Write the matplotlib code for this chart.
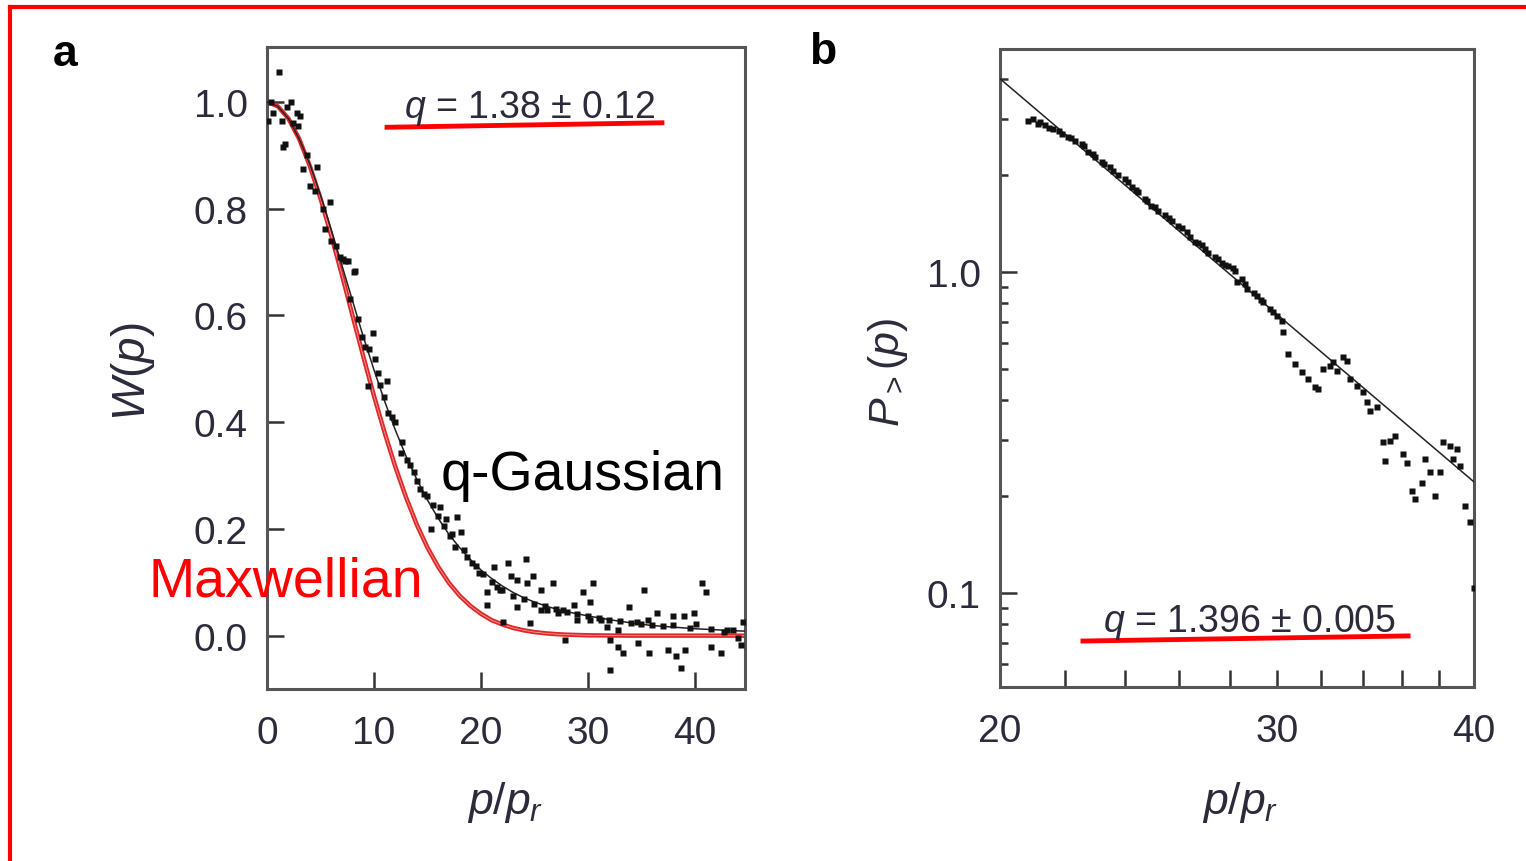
import matplotlib.pyplot as plt
from matplotlib.lines import Line2D
from matplotlib.ticker import FixedLocator, FixedFormatter, NullFormatter

# panel a: W(p) measured points
wp_x = [1.1, 2.2, 0.6, 0.1, 2.8, 3.1, 1.4, 2.9, 1.7, 1.5, 3.4, 4.7, 4.0, 4.5, 5.9, 5.2, 5.4, 6.4,
        7.1, 7.6, 8.2, 7.3, 8.1, 7.8, 8.5, 9.9, 8.9, 9.5, 10.1, 10.4, 11.2, 9.4, 10.9, 11.3, 12.0,
        12.6, 12.5, 13.1, 13.7, 14.3, 15.0, 15.3, 16.2, 16.7, 17.8, 18.1, 17.1, 17.6, 18.7, 19.2,
        19.8, 20.6, 20.6, 21.2, 22.5, 24.2, 21.8, 22.8, 23.4, 24.3, 24.9, 26.7, 25.6, 23.4, 24.6,
        22.1, 25.6, 26.2, 27.2, 27.7, 28.7, 29.5, 30.5, 30.2, 27.9, 29.0, 30.2, 31.2, 31.8, 32.8,
        32.1, 32.8, 33.3, 32.1, 33.8, 35.2, 34.6, 35.6, 36.5, 34.7, 35.7, 37.5, 38.2, 38.7, 39.1,
        38.0, 39.0, 39.9, 40.7, 41.0, 40.1, 41.5, 42.4, 42.7, 43.6, 44.5, 44.3,
        0.4, 1.9, 2.4, 3.7, 6.0, 6.8, 9.2, 10.6, 11.7, 13.4, 14.0, 14.7, 15.5, 16.0, 16.5, 17.3,
        18.4, 19.5, 20.2, 21.0, 21.5, 22.0, 23.0, 24.0, 25.0, 26.0, 27.0, 28.0, 29.0, 30.0, 31.0,
        32.0, 33.0, 34.0, 35.0, 36.0, 37.0, 38.0, 39.5, 41.5, 43.0, 44.0]
wp_y = [1.056, 1.0, 0.98, 0.965, 0.98, 0.974, 0.965, 0.955, 0.921, 0.916, 0.874, 0.878, 0.842,
        0.833, 0.812, 0.80, 0.762, 0.730, 0.705, 0.702, 0.683, 0.702, 0.681, 0.630, 0.593, 0.568,
        0.559, 0.537, 0.518, 0.493, 0.477, 0.467, 0.448, 0.418, 0.401, 0.362, 0.343, 0.330, 0.306,
        0.274, 0.261, 0.199, 0.242, 0.218, 0.223, 0.195, 0.186, 0.167, 0.148, 0.137, 0.118, 0.081,
        0.058, 0.129, 0.137, 0.143, 0.086, 0.111, 0.105, 0.099, 0.111, 0.099, 0.086, 0.053, 0.024,
        0.026, 0.049, 0.049, 0.043, 0.049, 0.058, 0.081, 0.099, 0.064, -0.008, 0.030, 0.030, 0.030,
        0.017, 0.011, -0.008, -0.021, -0.032, -0.064, 0.053, 0.086, 0.026, 0.030, 0.043, -0.013,
        -0.032, -0.026, -0.039, -0.060, -0.026, 0.036, 0.036, 0.043, 0.099, 0.081, 0.021, -0.022,
        -0.032, 0.006, 0.011, 0.026, -0.017,
        1.0, 0.99, 0.96, 0.90, 0.74, 0.71, 0.54, 0.47, 0.41, 0.32, 0.29, 0.265, 0.245, 0.225, 0.205,
        0.19, 0.16, 0.13, 0.115, 0.10, 0.092, 0.085, 0.075, 0.068, 0.06, 0.055, 0.05, 0.045, 0.04,
        0.036, 0.033, 0.03, 0.027, 0.024, 0.022, 0.02, 0.018, 0.02, 0.015, 0.012, 0.01, -0.005]

# fitted curves, panel a
curve_x = [0, 1, 2, 3, 4, 5, 6, 7, 8, 9, 10, 11, 12, 13, 14, 15, 16, 17, 18, 19, 20, 21, 22, 23,
           24, 25, 26, 27, 28, 30, 32, 34, 36, 38, 40, 42, 44, 44.7]
maxwell_y = [1.0, 0.992, 0.969, 0.931, 0.880, 0.819, 0.750, 0.676, 0.599, 0.523, 0.449, 0.380,
             0.316, 0.259, 0.208, 0.165, 0.129, 0.099, 0.075, 0.056, 0.041, 0.029, 0.021, 0.0145,
             0.010, 0.0067, 0.0045, 0.0029, 0.0019, 0.0007, 0.0003, 0.0, 0.0, 0.0, 0.0, 0.0, 0.0, 0.0]
qgauss_y = [1.0, 0.992, 0.969, 0.931, 0.883, 0.825, 0.761, 0.694, 0.627, 0.560, 0.498, 0.439,
            0.385, 0.336, 0.293, 0.254, 0.220, 0.190, 0.165, 0.143, 0.123, 0.107, 0.093, 0.081,
            0.071, 0.063, 0.056, 0.050, 0.045, 0.037, 0.030, 0.024, 0.019, 0.016, 0.013, 0.011,
            0.009, 0.0085]

# panel b: cumulative distribution
cdf_x = [20.84, 21.0, 21.15, 21.36, 21.62, 21.89, 22.1, 22.32, 22.54, 22.76, 22.98, 23.21, 23.49,
         23.78, 24.01, 24.25, 24.48, 24.72, 24.96, 25.2, 25.46, 25.71, 25.96, 26.28, 26.6, 26.86,
         27.12, 27.39, 27.66, 27.93, 28.2, 28.48, 28.27, 28.69, 29.11, 29.4, 29.68, 29.98, 30.2,
         30.27, 30.49, 30.79, 31.09, 31.4, 31.7, 31.86, 32.09, 32.41, 32.57, 33.04, 33.21, 32.73,
         33.37, 33.7, 34.02, 34.19, 34.36, 34.7, 35.04, 35.38, 35.64, 35.12, 36.07, 36.25, 37.23,
         37.51, 38.06, 37.05, 36.52, 36.7, 37.78, 38.25, 38.62, 39.0, 38.81, 39.19, 39.48, 39.77,
         40.0,
         21.2, 21.5, 21.8, 22.2, 22.6, 22.9, 23.3, 23.6, 24.1, 24.4, 24.8, 25.1, 25.6, 26.1, 26.4,
         26.7, 27.0, 27.5, 27.8, 28.1, 28.6, 29.0, 29.3, 29.8]
cdf_y = [2.96, 3.00, 2.89, 2.86, 2.79, 2.69, 2.63, 2.56, 2.50, 2.36, 2.28, 2.20, 2.12, 2.00, 1.95,
         1.84, 1.77, 1.69, 1.61, 1.55, 1.50, 1.44, 1.39, 1.33, 1.24, 1.21, 1.15, 1.11, 1.07, 1.046,
         1.01, 0.951, 0.929, 0.885, 0.844, 0.805, 0.767, 0.731, 0.705, 0.649, 0.555, 0.517, 0.487,
         0.464, 0.437, 0.432, 0.499, 0.511, 0.523, 0.542, 0.530, 0.493, 0.464, 0.442, 0.422, 0.393,
         0.370, 0.379, 0.295, 0.298, 0.309, 0.258, 0.271, 0.255, 0.261, 0.238, 0.238, 0.221, 0.208,
         0.196, 0.201, 0.295, 0.288, 0.281, 0.261, 0.249, 0.187, 0.166, 0.104,
         2.93, 2.80, 2.74, 2.62, 2.46, 2.33, 2.17, 2.06, 1.91, 1.80, 1.66, 1.59, 1.47, 1.37, 1.29,
         1.23, 1.18, 1.10, 1.05, 1.03, 0.92, 0.86, 0.82, 0.75]
fit_x = [20, 40]
fit_y = [4.0, 0.222]

a_xticks = [0, 10, 20, 30, 40]
a_yticks = [0.0, 0.2, 0.4, 0.6, 0.8, 1.0]
a_ylabels = ['0.0', '0.2', '0.4', '0.6', '0.8', '1.0']
b_xticks = [20, 30, 40]
b_xminor = [22, 24, 26, 28, 32, 34, 36, 38]
b_yticks = [0.1, 1.0]
b_ylabels = ['0.1', '1.0']
b_yminor = [0.06, 0.07, 0.08, 0.09, 0.2, 0.3, 0.4, 0.5, 0.6, 0.7, 0.8, 0.9, 2, 3, 4]

plt.rcParams['font.family'] = ['Liberation Sans', 'DejaVu Sans']
plt.rcParams['mathtext.fontset'] = 'custom'
plt.rcParams['mathtext.it'] = 'Liberation Sans:italic'
plt.rcParams['mathtext.rm'] = 'Liberation Sans'

tick_col = '#2b2b3b'
spine_col = '#555555'

fig = plt.figure(figsize=(15.26, 8.62), dpi=100)
ax1 = fig.add_axes([0.175, 0.1995, 0.3133, 0.7448])
ax2 = fig.add_axes([0.6553, 0.2019, 0.3106, 0.7401])

# ---- panel a
ax1.plot(curve_x, maxwell_y, color='#e02828', lw=3.2, zorder=2)
ax1.plot(curve_x, maxwell_y, color='#f39a9a', lw=0.6, zorder=2.1)
ax1.plot(curve_x, qgauss_y, color='#222222', lw=1.1, zorder=3)
ax1.plot(wp_x, wp_y, 's', ms=4, color='#111111', mec='none', zorder=4)
ax1.set_xlim(0, 44.7)
ax1.set_ylim(-0.1, 1.103)
ax1.set_xticks(a_xticks)
ax1.set_yticks(a_yticks)
ax1.set_yticklabels(a_ylabels)

ax1.text(0.55, 0.891, r'$q$ = 1.38 ± 0.12', transform=ax1.transAxes, ha='center',
         va='baseline', fontsize=27, color=tick_col)
ax1.plot([0.251, 0.826], [0.875, 0.882], transform=ax1.transAxes, color='red', lw=3.5)
ax1.text(16.2, 0.274, 'q-Gaussian', fontsize=40, color='black', ha='left', va='baseline',
         zorder=6)
ax1.text(-11.1, 0.075, 'Maxwellian', fontsize=40, color='red', ha='left', va='baseline',
         clip_on=False, zorder=6)

# ---- panel b
ax2.set_xscale('log')
ax2.set_yscale('log')
ax2.plot(fit_x, fit_y, color='#222222', lw=1.1, zorder=3)
ax2.plot(cdf_x, cdf_y, 's', ms=4, color='#111111', mec='none', zorder=4)
ax2.set_xlim(20, 40)
ax2.set_ylim(0.051, 4.95)
ax2.xaxis.set_major_locator(FixedLocator(b_xticks))
ax2.xaxis.set_major_formatter(FixedFormatter([str(t) for t in b_xticks]))
ax2.xaxis.set_minor_locator(FixedLocator(b_xminor))
ax2.xaxis.set_minor_formatter(NullFormatter())
ax2.yaxis.set_major_locator(FixedLocator(b_yticks))
ax2.yaxis.set_major_formatter(FixedFormatter(b_ylabels))
ax2.yaxis.set_minor_locator(FixedLocator(b_yminor))
ax2.yaxis.set_minor_formatter(NullFormatter())

ax2.text(0.527, 0.088, r'$q$ = 1.396 ± 0.005', transform=ax2.transAxes, ha='center',
         va='baseline', fontsize=27, color=tick_col)
ax2.plot([0.175, 0.861], [0.072, 0.080], transform=ax2.transAxes, color='red', lw=3.5)

for ax in (ax1, ax2):
    for s in ax.spines.values():
        s.set_color(spine_col)
        s.set_linewidth(2.2)
    ax.tick_params(which='both', direction='in', top=False, right=False, width=1.8,
                   color='#333333', labelsize=28, labelcolor=tick_col, pad=14)
    ax.tick_params(axis='x', which='both', pad=19)
    ax.tick_params(which='major', length=12)
ax2.tick_params(axis='x', which='minor', length=12)
ax2.tick_params(axis='y', which='minor', length=6)

# axis labels and panel letters
fig.text(505 / 1526, 1 - 803 / 862, r'$p/p_r$', ha='center', va='center', fontsize=32,
         color=tick_col)
fig.text(1240 / 1526, 1 - 803 / 862, r'$p/p_r$', ha='center', va='center', fontsize=32,
         color=tick_col)
fig.text(133 / 1526, 1 - 372 / 862, r'$W(p)$', rotation=90, ha='center', va='center',
         fontsize=33, color=tick_col)
fig.text(888 / 1526, 1 - 372 / 862, r'$P_>(p)$', rotation=90, ha='center', va='center',
         fontsize=31, color=tick_col)
fig.text(65 / 1526, 1 - 54 / 862, 'a', ha='center', va='center', fontsize=32, weight='bold')
fig.text(823 / 1526, 1 - 52 / 862, 'b', ha='center', va='center', fontsize=32, weight='bold')

# red frame round the picture
fig.add_artist(Line2D([10 / 1526, 1], [1 - 8 / 862] * 2, transform=fig.transFigure,
                      color='red', lw=3))
fig.add_artist(Line2D([10 / 1526] * 2, [0, 1 - 8 / 862], transform=fig.transFigure,
                      color='red', lw=3))

fig.savefig('out.png', dpi=100)
